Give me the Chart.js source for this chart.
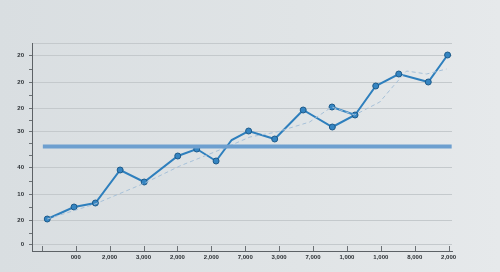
<!DOCTYPE html>
<html>
<head>
<meta charset="utf-8">
<script src="https://cdn.jsdelivr.net/npm/chart.js@4/dist/chart.umd.min.js"></script>
<style>
  html, body { margin: 0; padding: 0; }
  body {
    width: 500px; height: 272px; overflow: hidden;
    background: linear-gradient(90deg, #d9dee1 0%, #e0e4e6 60%, #e6e9eb 100%);
  }
  canvas { display: block; }
</style>
</head>
<body>
<canvas id="chart" width="500" height="272"></canvas>
<script>
// x positions are in tick units (tick 0 is the unlabelled first tick)
const xLabels = ['', '000', '2,000', '3,000', '2,000', '2,000', '7,000', '3,000', '7,000', '1,000', '1,000', '8,000', '2,000'];

// y tick positions and their (odd) labels, bottom to top
const yTickValues = [7, 31, 57, 84, 120, 143, 169, 196];
const yTickLabels = ['0', '20', '10', '40', '30', '20', '20', '20'];
const yMinorValues = [18, 44, 70, 96, 108, 131, 156, 182];

const mainX = [0.16, 0.95, 1.58, 2.31, 3.02, 4.01, 4.57, 5.14, 5.60, 6.10, 6.87, 7.71, 8.57, 9.24, 9.85, 10.53, 11.40, 11.97];
const mainY = [32, 44, 48, 81, 69, 95, 102, 90, 111, 120, 112, 141, 124, 136, 165, 177, 169, 196];

const trendX = [0.16, 1.57, 3.04, 4.07, 5.46, 6.14, 6.93, 7.90, 8.55, 9.23, 9.97, 10.32, 10.76, 11.35, 11.94];
const trendY = [32, 47, 68, 85, 104, 114, 119, 129, 144, 136, 149, 163, 180, 177, 182];

const linkX = [8.56, 9.24];
const linkY = [144, 136];

const refX = [0.03, 12.09];
const refY = [104.5, 104.5];

const bendIndex = 8; // the point on the main line drawn without a marker

const pts = (xs, ys) => xs.map((x, i) => ({ x: x, y: ys[i] }));

const innerTicks = {
  id: 'innerTicks',
  afterDraw(chart) {
    const xs = chart.scales.x;
    const ctx = chart.ctx;
    ctx.save();
    ctx.strokeStyle = '#6b7074';
    ctx.lineWidth = 1;
    xs.ticks.forEach((t, i) => {
      const px = Math.round(xs.getPixelForTick(i)) + 0.5;
      ctx.beginPath();
      ctx.moveTo(px, xs.top - 5);
      ctx.lineTo(px, xs.top);
      ctx.stroke();
    });
    ctx.restore();
  }
};

const tickFont = { family: 'Liberation Sans, Arial, sans-serif', size: 6, weight: 'bold' };

new Chart(document.getElementById('chart'), {
  type: 'line',
  data: {
    datasets: [
      {
        label: 'ref',
        data: pts(refX, refY),
        borderColor: '#6d9fcf',
        borderWidth: 4,
        pointRadius: 0,
        borderCapStyle: 'butt'
      },
      {
        label: 'trend',
        data: pts(trendX, trendY),
        borderColor: '#a6c0d8',
        borderWidth: 1,
        borderDash: [4, 3],
        pointRadius: 0,
        tension: 0
      },
      {
        label: 'link',
        data: pts(linkX, linkY),
        borderColor: '#3886c2',
        borderWidth: 2,
        pointRadius: [3, 0],
        pointBackgroundColor: '#3585c2',
        pointBorderColor: '#1d5a8a',
        pointBorderWidth: 1
      },
      {
        label: 'main',
        data: pts(mainX, mainY),
        borderColor: '#2e7fbd',
        borderWidth: 2,
        tension: 0,
        pointRadius: ctx => ctx.dataIndex === bendIndex ? 0 : 3,
        pointBackgroundColor: '#3585c2',
        pointBorderColor: '#1d5a8a',
        pointBorderWidth: 1
      }
    ]
  },
  options: {
    responsive: false,
    animation: false,
    devicePixelRatio: 1,
    layout: { padding: { top: 43, right: 48, left: 0, bottom: 0 } },
    plugins: { legend: { display: false }, tooltip: { enabled: false } },
    scales: {
      x: {
        type: 'linear',
        min: -0.29,
        max: 12.1,
        afterBuildTicks: axis => { axis.ticks = xLabels.map((l, i) => ({ value: i })); },
        afterFit: axis => { axis.height = 21; },
        grid: { display: false, drawTicks: false, tickLength: 0 },
        border: { display: true, color: '#5d6266', width: 1 },
        ticks: {
          autoSkip: false,
          maxRotation: 0,
          padding: 3,
          color: '#2a2f33',
          font: tickFont,
          callback: v => xLabels[Math.round(v)]
        }
      },
      y: {
        type: 'linear',
        min: 0,
        max: 208,
        afterBuildTicks: axis => {
          const vals = yTickValues.concat(yMinorValues, [208]).sort((a, b) => a - b);
          axis.ticks = vals.map(v => ({ value: v }));
        },
        afterFit: axis => { axis.width = 32; },
        grid: {
          color: ctx => (yTickValues.includes(ctx.tick.value) || ctx.tick.value === 208) ? '#c4c9cc' : 'rgba(0,0,0,0)',
          tickColor: ctx => ctx.tick.value === 208 ? 'rgba(0,0,0,0)' : '#6b7074',
          tickLength: 3,
          lineWidth: 1
        },
        border: { display: true, color: '#5d6266', width: 1 },
        ticks: {
          autoSkip: false,
          padding: 5,
          color: '#2a2f33',
          font: tickFont,
          callback: v => {
            const i = yTickValues.indexOf(v);
            return i >= 0 ? yTickLabels[i] : '';
          }
        }
      }
    }
  },
  plugins: [innerTicks]
});
</script>
</body>
</html>
